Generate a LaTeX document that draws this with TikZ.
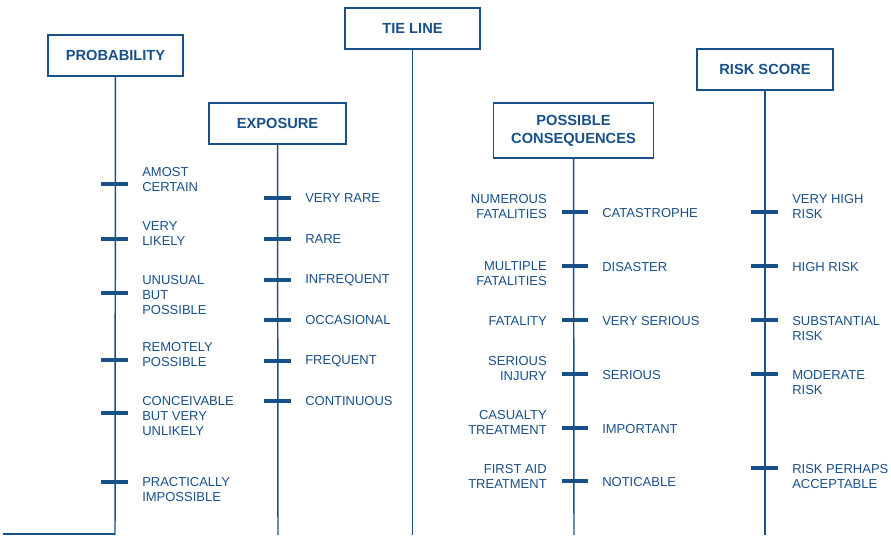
\documentclass[tikz,border=0pt]{standalone}
\usepackage{fontspec}
\setmainfont{Liberation Sans}
\usetikzlibrary{positioning}
\definecolor{navy}{RGB}{24,80,138}

\begin{document}
\begin{tikzpicture}[x=0.75pt, y=-0.75pt,
        head/.style={draw=navy, line width=1.1pt, text=navy, font=\fontsize{11}{13.5}\selectfont\bfseries,
                     minimum width=101pt, minimum height=31pt, align=center},
        stem/.style={draw=navy, line width=1.1pt},
        tick/.style={fill=navy, minimum width=20pt, minimum height=3pt, inner sep=0pt},
        lbl/.style={text=navy, font=\fontsize{9.75}{11.25}\selectfont, inner sep=0pt, anchor=west, align=left},
        lblr/.style={lbl, anchor=east, align=right}]
        \useasboundingbox (0,0) rectangle (891,535);
        % column heads
        \node[head] (prob) at (115.5,55.5) {PROBABILITY};
        \node[head, minimum width=103pt] (expo) at (277.5,123.5) {EXPOSURE};
        \node[head] (tie) at (412.5,28.5) {TIE LINE};
        \node[head, minimum width=120pt, minimum height=41pt] (cons) at (573.5,130.5) {POSSIBLE\\CONSEQUENCES};
        \node[head, minimum width=102pt] (risk) at (765,69.5) {RISK SCORE};
        \coordinate (pend) at (115,535);
        \coordinate (eend) at (278,535);
        \coordinate (tend) at (412.5,535);
        \coordinate (cend) at (574,535);
        \coordinate (rend) at (765,535);
        \coordinate (base) at (3,534);
        \draw[stem] (prob) -- (pend);
        \draw[stem] (expo) -- (eend);
        \draw[stem] (tie) -- (tend);
        \draw[stem] (cons) -- (cend);
        \draw[stem] (risk) -- (rend);
        \draw[stem] (base) -- (pend |- base);
        % scale marks
        \foreach \y [count=\i] in {184,239,293,360,413,482}
            \node[tick] (p\i) at (114.5,\y) {};
        \foreach \y [count=\i] in {198,239,280,320,361,401}
            \node[tick] (e\i) at (277.5,\y) {};
        \foreach \y [count=\i] in {212,266,320,374,428,481}
            \node[tick] (c\i) at (575,\y) {};
        \foreach \y [count=\i] in {212,266,320,374,468}
            \node[tick] (r\i) at (764.5,\y) {};
        % probability
        \node[lbl] (pl1) at (142,179.5) {AMOST\\CERTAIN};
        \node[lbl] (pl2) at (142,233.5) {VERY\\LIKELY};
        \node[lbl] (pl3) at (142,295.5) {UNUSUAL\\BUT\\POSSIBLE};
        \node[lbl] (pl4) at (142,354.5) {REMOTELY\\POSSIBLE};
        \node[lbl] (pl5) at (142,416.5) {CONCEIVABLE\\BUT VERY\\UNLIKELY};
        \node[lbl] (pl6) at (142,489.5) {PRACTICALLY\\IMPOSSIBLE};
        % exposure
        \node[lbl] (el1) at (305,198) {VERY RARE};
        \node[lbl] (el2) at (305,239) {RARE};
        \node[lbl] (el3) at (305,280) {INFREQUENT};
        \node[lbl] (el4) at (305,320) {OCCASIONAL};
        \node[lbl] (el5) at (305,361) {FREQUENT};
        \node[lbl] (el6) at (305,401) {CONTINUOUS};
        % consequences
        \node[lblr] (cl1) at (547,206.5) {NUMEROUS\\FATALITIES};
        \node[lblr] (cl2) at (547,274) {MULTIPLE\\FATALITIES};
        \node[lblr] (cl3) at (547,321) {FATALITY};
        \node[lblr] (cl4) at (547,369) {SERIOUS\\INJURY};
        \node[lblr] (cl5) at (547,422.5) {CASUALTY\\TREATMENT};
        \node[lblr] (cl6) at (547,476.5) {FIRST AID\\TREATMENT};
        \node[lbl] (cr1) at (602,213) {CATASTROPHE};
        \node[lbl] (cr2) at (602,267) {DISASTER};
        \node[lbl] (cr3) at (602,321) {VERY SERIOUS};
        \node[lbl] (cr4) at (602,375) {SERIOUS};
        \node[lbl] (cr5) at (602,429) {IMPORTANT};
        \node[lbl] (cr6) at (602,482) {NOTICABLE};
        % risk score
        \node[lbl] (rl1) at (792,207) {VERY HIGH\\RISK};
        \node[lbl] (rl2) at (792,267) {HIGH RISK};
        \node[lbl] (rl3) at (792,329) {SUBSTANTIAL\\RISK};
        \node[lbl] (rl4) at (792,382.5) {MODERATE\\RISK};
        \node[lbl] (rl5) at (792,476.5) {RISK PERHAPS\\ACCEPTABLE};
    \end{tikzpicture}
\end{document}
